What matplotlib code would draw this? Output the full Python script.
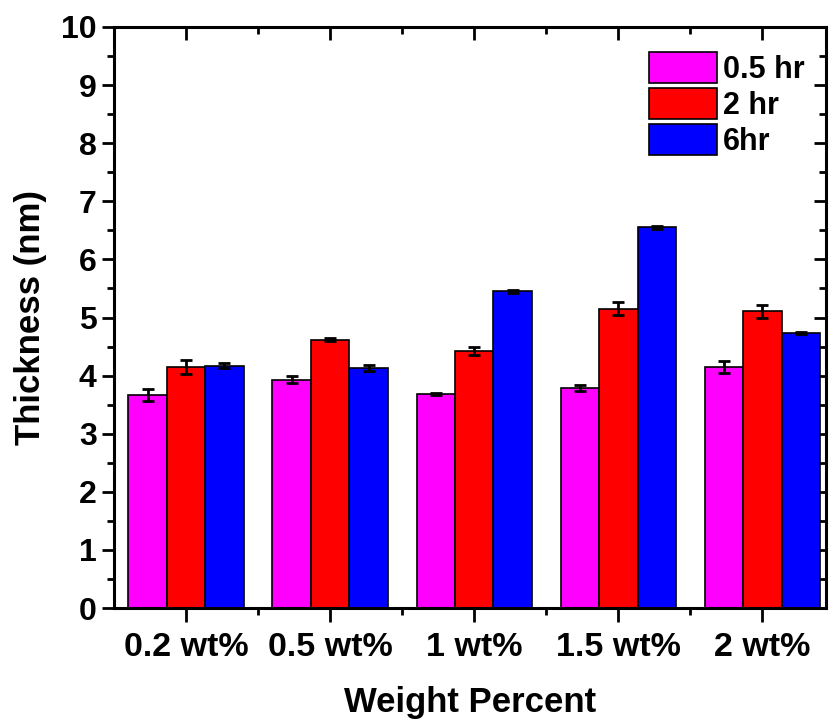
import numpy as np
import matplotlib.pyplot as plt
from matplotlib.ticker import MultipleLocator, FixedLocator

plt.rcParams['font.family'] = ['Liberation Sans', 'DejaVu Sans']
plt.rcParams['font.weight'] = 'bold'

# Datos
categorias = ['0.2 wt%', '0.5 wt%', '1 wt%', '1.5 wt%', '2 wt%']
series = ['0.5 hr', '2 hr', '6hr']
t05 = [3.67, 3.93, 3.68, 3.79, 4.15]
t05_err = [0.10, 0.06, 0.02, 0.05, 0.10]
t2 = [4.15, 4.62, 4.43, 5.15, 5.11]
t2_err = [0.12, 0.03, 0.07, 0.11, 0.11]
t6 = [4.17, 4.13, 5.45, 6.55, 4.73]
t6_err = [0.04, 0.05, 0.02, 0.02, 0.02]
colores = ['#ff00ff', '#ff0000', '#0000ff']

fig = plt.figure(figsize=(8.3, 7.23), dpi=100)
ax = fig.add_axes([0.1373, 0.159, 0.8577, 0.8037])

x = np.arange(len(categorias))
w = 0.8 / 3
for i, (v, e) in enumerate([(t05, t05_err), (t2, t2_err), (t6, t6_err)]):
    ax.bar(x + (i - 1) * w, v, w, color=colores[i], edgecolor='black', linewidth=1.2,
           label=series[i], yerr=e, capsize=4.5,
           error_kw=dict(elinewidth=2, capthick=2, ecolor='black'))

ax.set_xlim(-0.5, 4.44)
ax.set_ylim(0, 10)
ax.set_xticks(x)
ax.set_xticklabels(categorias, fontsize=24.5, fontweight='bold')
ax.xaxis.set_minor_locator(FixedLocator(x[:-1] + 0.5))
ax.yaxis.set_major_locator(MultipleLocator(1))
ax.yaxis.set_minor_locator(MultipleLocator(0.5))
ax.tick_params(axis='y', labelsize=23, width=2, length=9, direction='out')
ax.tick_params(axis='y', which='minor', width=2, length=5)
ax.tick_params(axis='x', width=2, length=10, direction='out', pad=7)
ax.tick_params(axis='x', which='minor', width=2, length=5)
# ticks de arriba y derecha hacia adentro
ax2 = ax.secondary_xaxis('top')
ax2.set_xticks(x)
ax2.xaxis.set_minor_locator(FixedLocator(x[:-1] + 0.5))
ax2.tick_params(direction='in', width=2, length=9, labeltop=False)
ax2.tick_params(which='minor', direction='in', width=2, length=5)
ax2.set_xticklabels([])
ax3 = ax.secondary_yaxis('right')
ax3.yaxis.set_major_locator(MultipleLocator(1))
ax3.yaxis.set_minor_locator(MultipleLocator(0.5))
ax3.tick_params(direction='in', width=2, length=9, labelright=False)
ax3.tick_params(which='minor', direction='in', width=2, length=5)
ax.tick_params(which='both', top=False, right=False)
for s in ax.spines.values():
    s.set_linewidth(2.2)
ax2.spines['top'].set_visible(False)
ax3.spines['right'].set_visible(False)

ax.set_xlabel('Weight Percent', fontsize=25, fontweight='bold', labelpad=17)
ax.set_ylabel('Thickness (nm)', fontsize=25, fontweight='bold', labelpad=10)

ax.legend(loc='upper left', bbox_to_anchor=(0.752, 0.957), frameon=False,
          fontsize=22, handlelength=2.2, handleheight=1.2, labelspacing=0.1,
          handletextpad=0.2, borderpad=0, borderaxespad=0)

plt.savefig('out.png', dpi=100)
